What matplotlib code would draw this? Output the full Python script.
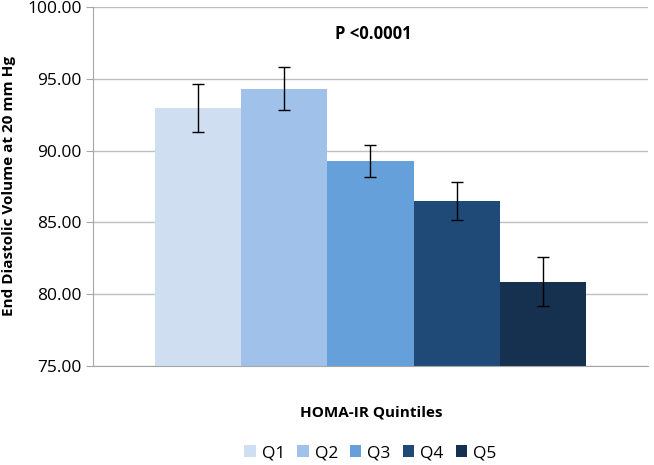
import numpy as np
import matplotlib.pyplot as plt

plt.rcParams['font.family'] = ['Open Sans', 'DejaVu Sans']

quintiles = ["Q1", "Q2", "Q3", "Q4", "Q5"]
edv_means = [92.97, 94.30, 89.28, 86.49, 80.87]
edv_errs = [1.70, 1.50, 1.12, 1.32, 1.72]
colors = ["#CFDEF1", "#A0C2EA", "#66A0DB", "#1F4A78", "#16304F"]

fig = plt.figure(figsize=(6.54, 4.65), dpi=100)
ax = fig.add_axes([0.142, 0.213, 0.849, 0.772])

width = 0.155
offsets = (np.arange(len(quintiles)) - 2) * width
for off, q, m, e, c in zip(offsets, quintiles, edv_means, edv_errs, colors):
    ax.bar(off, m - 75, bottom=75, width=width, color=c, label=q, zorder=2)
    ax.errorbar(off, m, yerr=e, fmt='none', ecolor='black', elinewidth=1,
                capsize=4, capthick=1, zorder=3)

ax.set_xlim(-0.5, 0.5)
ax.set_ylim(75, 100)
ax.set_yticks(np.arange(75, 101, 5))
ax.set_yticklabels([f"{v:.2f}" for v in np.arange(75, 101, 5)], fontsize=12.5)
ax.set_xticks([])
ax.yaxis.grid(True, color='#BFBFBF', linewidth=1, zorder=0)
ax.set_axisbelow(True)
for s in ['top', 'right']:
    ax.spines[s].set_visible(False)
ax.spines['left'].set_color('#A6A6A6')
ax.spines['bottom'].set_color('#A6A6A6')
ax.tick_params(axis='y', length=5, color='#A6A6A6', pad=3)

ax.set_ylabel("End Diastolic Volume at 20 mm Hg", fontsize=11, fontweight='bold', labelpad=8)
ax.text(0.005, 98.1, "P <0.0001", ha='center', va='center', fontsize=12, fontweight='bold')

fig.text(0.568, 0.112, "HOMA-IR Quintiles", ha='center', va='center', fontsize=11, fontweight='bold')
ax.legend(loc='center', bbox_to_anchor=(0.5, -0.243), ncol=5, frameon=False, fontsize=12.5,
          handlelength=0.65, handleheight=0.65, handletextpad=0.35, columnspacing=0.7,
          borderpad=0.1)

fig.savefig("out.png", dpi=100)
